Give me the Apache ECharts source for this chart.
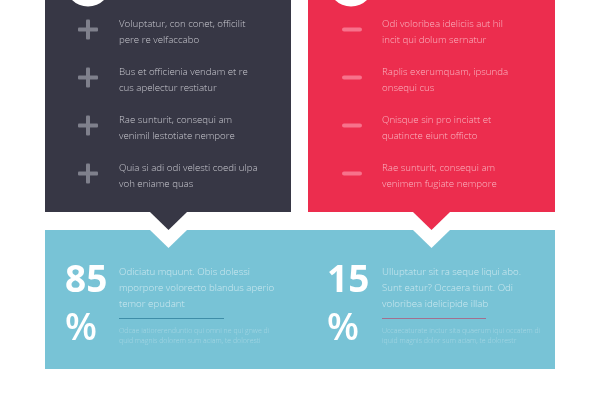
<!DOCTYPE html>
<html>
<head>
<meta charset="utf-8">
<style>
html,body{margin:0;padding:0;background:#fff;}
#main{width:600px;height:400px;}
</style>
<script src="https://cdn.jsdelivr.net/npm/echarts@6/dist/echarts.min.js"></script>
</head>
<body>
<div id="main"></div>
<script>
var prosLines = [
    ['Voluptatur, con conet, officilit', 'pere re velfaccabo'],
    ['Bus et officienia vendam et re', 'cus apelectur restiatur'],
    ['Rae sunturit, consequi am', 'venimil lestotiate nempore'],
    ['Quia si adi odi velesti coedi ulpa', 'voh eniame quas']
];
var consLines = [
    ['Odi voloribea ideliciis aut hil', 'incit qui dolum sernatur'],
    ['Raplis exerumquam, ipsunda', 'onsequi cus'],
    ['Qnisque sin pro inciatt et', 'quatincte eiunt officto'],
    ['Rae sunturit, consequi am', 'venimem fugiate nempore']
];
var percentValues = [85, 15];
var summaryLines = [
    ['Odiciatu mquunt. Obis dolessi', 'mporpore volorecto blandus aperio', 'temor epudant'],
    ['Ulluptatur sit ra seque liqui abo.', 'Sunt eatur? Occaera tiunt. Odi', 'voloribea idelicipide illab']
];
var noteLines = [
    ['Odcae iatiorerenduntio qui omni ne qui gnwe di', 'quid magnis dolorem sum aciam, te doloresti'],
    ['Uccaecaturate inctur sita quaerum iqui occatem di', 'iquid magnis dolor sum aciam, te dolorestr']
];

var FONT = '"Open Sans"';
var elements = [];

function rect(x, y, w, h, color, r) {
    elements.push({type: 'rect', silent: true, shape: {x: x, y: y, width: w, height: h, r: r || 0}, style: {fill: color}});
}
function triangle(x1, x2, y, tip, color) {
    elements.push({type: 'polygon', silent: true, shape: {points: [[x1, y], [x2, y], [(x1 + x2) / 2, tip]]}, style: {fill: color}});
}
function label(x, y, str, size, color, weight) {
    elements.push({
        type: 'text', silent: true, x: x, y: y,
        style: {text: str, fill: color, fontFamily: FONT, fontSize: size, fontWeight: weight || 300, align: 'left', verticalAlign: 'middle'}
    });
}

// panels
rect(45, 0, 246, 212, '#373745');
rect(308, 0, 247, 212, '#ec2d4e');
rect(45, 230, 510, 139, '#78c3d6');

// arrows and their white notches
triangle(150, 187, 212, 230, '#373745');
triangle(413, 450, 212, 230, '#ec2d4e');
triangle(150, 187, 230, 248, '#ffffff');
triangle(413, 450, 230, 248, '#ffffff');

// head circles, cut by the top of the page
elements.push({type: 'circle', silent: true, shape: {cx: 88, cy: -16.5, r: 23}, style: {fill: '#ffffff'}});
elements.push({type: 'circle', silent: true, shape: {cx: 351, cy: -16.5, r: 23}, style: {fill: '#ffffff'}});

// list rows
prosLines.forEach(function (row, i) {
    var y = 29.5 + i * 48;
    rect(78, y - 2, 20, 4, '#7f808c', 1);
    rect(86, y - 10, 4, 20, '#7f808c', 1);
    label(119, y - 5, row[0], 9.7, '#c9c9d0');
    label(119, y + 11, row[1], 9.7, '#c9c9d0');
});
consLines.forEach(function (row, i) {
    var y = 29.5 + i * 48;
    rect(342, y - 2, 20, 4, '#f7728b', 2);
    label(382, y - 5, row[0], 9.7, '#f9b7c3');
    label(382, y + 11, row[1], 9.7, '#f9b7c3');
});

// summary block
var numX = [65, 327];
var textX = [119, 382];
var ruleColors = ['#3f8ea8', '#a2708f'];
percentValues.forEach(function (v, i) {
    label(numX[i], 281, String(v), 37, '#ffffff', 700);
    label(numX[i], 329, '%', 37, '#ffffff', 600);
    summaryLines[i].forEach(function (s, k) {
        label(textX[i], 272.5 + k * 15.7, s, 9.7, '#cce8ef');
    });
    rect(textX[i], 318, i === 0 ? 105 : 104, 1, ruleColors[i]);
    noteLines[i].forEach(function (s, k) {
        label(textX[i], 331 + k * 10, s, 7, '#a6d7e4');
    });
});

var chart = echarts.init(document.getElementById('main'));
chart.setOption({
    backgroundColor: '#ffffff',
    animation: false,
    graphic: {elements: elements}
});
</script>
</body>
</html>
